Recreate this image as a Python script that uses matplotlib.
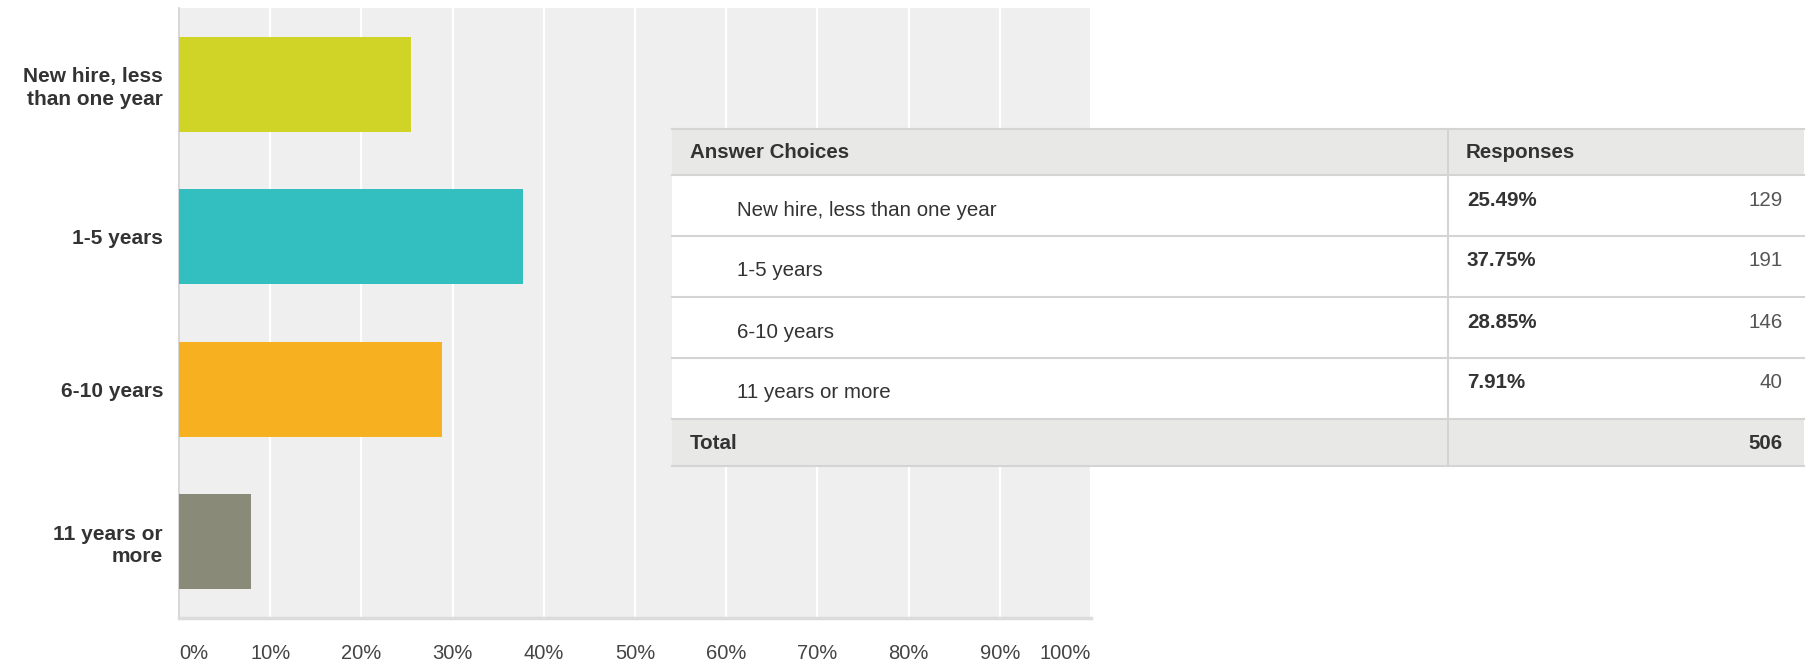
import matplotlib
matplotlib.use("Agg")
import matplotlib.pyplot as plt
from matplotlib.patches import Rectangle

plt.rcParams['font.family'] = ['Liberation Sans', 'DejaVu Sans']

# data
categories = ['New hire, less\nthan one year', '1-5 years', '6-10 years', '11 years or\nmore']
table_labels = ['New hire, less than one year', '1-5 years', '6-10 years', '11 years or more']
percents = [25.49, 37.75, 28.85, 7.91]
counts = [129, 191, 146, 40]
total = 506
bar_colors = ['#cfd427', '#33bec0', '#f6b020', '#8a8a78']
xticks = [0, 10, 20, 30, 40, 50, 60, 70, 80, 90, 100]

W, H = 1807, 665
fig = plt.figure(figsize=(W / 100, H / 100), dpi=100)

# bar chart area (pixel box 179..1091 x 8..618)
ax = fig.add_axes([179 / W, (H - 618) / H, (1091 - 179) / W, (618 - 8) / H])
ax.set_facecolor('#efefef')
ypos = list(range(len(categories)))
ax.barh(ypos, percents, height=0.62, color=bar_colors, zorder=3)
ax.set_xlim(0, 100)
ax.set_ylim(len(categories) - 0.5, -0.5)
ax.set_xticks(xticks)
ax.set_xticklabels([f'{t}%' for t in xticks], fontsize=14.5, color='#444444')
ax.set_yticks(ypos)
ax.set_yticklabels(categories, fontsize=15, fontweight='bold', color='#333333',
                   linespacing=1.25)
ax.tick_params(axis='x', length=0, pad=19)
ax.tick_params(axis='y', length=0, pad=11.5)
labels = ax.get_xticklabels()
labels[0].set_ha('left')
labels[-1].set_ha('right')
ax.grid(axis='x', color='white', linewidth=1.6, zorder=1)
ax.set_axisbelow(True)
for s in ['top', 'right']:
    ax.spines[s].set_visible(False)
ax.spines['left'].set_color('#d0d0d0')
ax.spines['left'].set_linewidth(1.2)
ax.spines['bottom'].set_color('#dcdcdc')
ax.spines['bottom'].set_linewidth(2.5)

# table overlay in pixel coordinates
ov = fig.add_axes([0, 0, 1, 1], zorder=10)
ov.set_xlim(0, W)
ov.set_ylim(H, 0)
ov.axis('off')

tl, tr = 672, 1804
col = 1448
top, head_b = 129, 175
row_h = 61
rows_top = [head_b + i * row_h for i in range(len(table_labels))]
total_t = head_b + row_h * len(table_labels)
bottom = 466
head_bg = '#e8e8e7'
line_c = '#d4d4d4'

ov.add_patch(Rectangle((tl, top), tr - tl, head_b - top, facecolor=head_bg, edgecolor='none'))
ov.add_patch(Rectangle((tl, head_b), tr - tl, total_t - head_b, facecolor='white', edgecolor='none'))
ov.add_patch(Rectangle((tl, total_t), tr - tl, bottom - total_t, facecolor=head_bg, edgecolor='none'))
for yl in [top, head_b] + rows_top[1:] + [total_t, bottom]:
    ov.plot([tl, tr], [yl, yl], color=line_c, lw=1.5)
ov.plot([col, col], [top, bottom], color=line_c, lw=1.5)

fs = 14.8
ov.text(690, (top + head_b) / 2 + 1, 'Answer Choices', fontsize=fs, fontweight='bold',
        color='#333333', va='center', ha='left')
ov.text(1466, (top + head_b) / 2 + 1, 'Responses', fontsize=fs, fontweight='bold',
        color='#333333', va='center', ha='left')
for rt, lab, p, c in zip(rows_top, table_labels, percents, counts):
    ov.text(737, rt + 35, lab, fontsize=fs, color='#333333', va='center', ha='left')
    ov.text(1467, rt + 25, f'{p:.2f}%', fontsize=fs, fontweight='bold', color='#333333',
            va='center', ha='left')
    ov.text(1783, rt + 25, str(c), fontsize=fs, color='#555555', va='center', ha='right')
ov.text(690, (total_t + bottom) / 2 + 1, 'Total', fontsize=fs, fontweight='bold',
        color='#333333', va='center', ha='left')
ov.text(1783, (total_t + bottom) / 2 + 1, str(total), fontsize=fs, fontweight='bold',
        color='#333333', va='center', ha='right')

fig.savefig('out.png', dpi=100)
